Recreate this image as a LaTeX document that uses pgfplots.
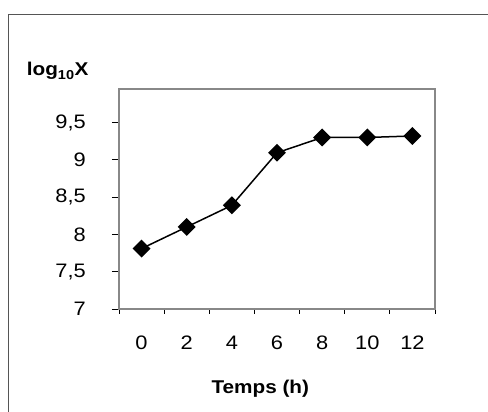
\documentclass[border=0pt]{standalone}
\usepackage{fontspec}
\setmainfont[FakeStretch=1.12]{Liberation Sans}
\usepackage{pgfplots}
\pgfplotsset{compat=1.18}
\definecolor{framegray}{RGB}{85,85,85}
\definecolor{boxgray}{RGB}{136,136,136}
\begin{document}
\begin{tikzpicture}[x=1pt,y=1pt]
\useasboundingbox (0,0) rectangle (488,412);
\draw[line width=1.4pt, framegray] (8.3,0) -- (8.3,397.3) -- (488,397.3);
\begin{axis}[
  at={(119pt,103pt)}, anchor=south west,
  scale only axis, width=316pt, height=220pt,
  xmin=-0.5, xmax=6.5, ymin=7, ymax=9.95,
  xtick={0,...,6}, xticklabels={0,2,4,6,8,10,12},
  minor xtick={-0.5,0.5,...,6.5},
  ytick={7,7.5,...,9.5},
  tick align=outside,
  major x tick style={draw=none},
  major tick length=7pt,
  minor tick length=5pt,
  tick style={black, line width=0.8pt},
  xtick pos=bottom, ytick pos=left,
  axis line style={boxgray, line width=2.5pt},
  /pgf/number format/.cd, use comma, 1000 sep={}, assume math mode=true,
  /pgfplots/.cd,
  ticklabel style={font=\fontsize{19.5}{21}\selectfont},
  yticklabel style={inner sep=0pt, xshift=-26pt},
  xticklabel style={inner sep=0pt, yshift=-20pt},
]
\addplot[black, line width=1.5pt, mark=square*, mark size=5.6pt, mark options={rotate=45, solid}]
  coordinates {(0,7.81)(1,8.10)(2,8.39)(3,9.095)(4,9.30)(5,9.30)(6,9.32)};
\end{axis}
\node[anchor=base west, inner sep=0pt, font=\bfseries\fontsize{18.5}{20}\selectfont] at (26.7,336) {log\textsubscript{10}X};
\node[anchor=base, inner sep=0pt, font=\bfseries\fontsize{18.5}{20}\selectfont] at (260.3,18.7) {Temps (h)};
\end{tikzpicture}
\end{document}
